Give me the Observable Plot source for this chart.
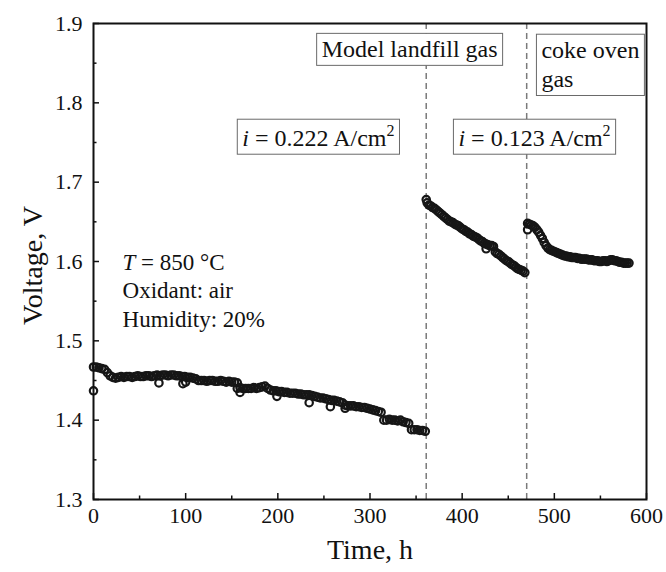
<!DOCTYPE html>
<html><head><meta charset="utf-8">
<script src="https://cdn.jsdelivr.net/npm/d3@7"></script>
<script src="https://cdn.jsdelivr.net/npm/@observablehq/plot@0.6"></script>
<style>body{margin:0;background:#fff}#chart{width:666px;height:572px}
#chart svg text{font-family:"Liberation Serif","Times New Roman",serif}</style>
</head><body><div id="chart"></div>
<script>
// ---- data ----
// Segment 1: model landfill gas, i = 0.222 A/cm2 (logged every 3 h from 0 h)
const seg1Start = 0, seg1Step = 3;
const seg1V = [
  1.467,1.467,1.466,1.465,1.464,1.460,1.456,1.454,1.453,1.454,
  1.455,1.454,1.455,1.455,1.454,1.455,1.456,1.455,1.455,1.456,
  1.456,1.455,1.456,1.457,1.456,1.457,1.457,1.456,1.457,1.457,
  1.456,1.456,1.455,1.455,1.454,1.454,1.453,1.452,1.450,1.450,
  1.450,1.449,1.450,1.450,1.449,1.449,1.450,1.449,1.448,1.449,
  1.448,1.448,1.447,1.441,1.440,1.440,1.440,1.440,1.441,1.440,
  1.441,1.442,1.443,1.440,1.438,1.437,1.437,1.436,1.436,1.435,
  1.435,1.434,1.434,1.434,1.433,1.433,1.432,1.432,1.432,1.431,
  1.430,1.429,1.428,1.428,1.427,1.426,1.425,1.425,1.424,1.423,
  1.422,1.419,1.418,1.418,1.418,1.417,1.417,1.416,1.416,1.415,
  1.414,1.413,1.412,1.411,1.410,1.400,1.400,1.401,1.400,1.400,
  1.399,1.400,1.398,1.397,1.396,1.388,1.388,1.388,1.387,1.387,
  1.386
];
// Segment 2: model landfill gas, i = 0.123 A/cm2 (every 2 h from 362 h)
const seg2Start = 362, seg2Step = 2;
const seg2V = [
  1.674,1.671,1.670,1.668,1.667,1.665,1.663,1.661,1.659,1.657,
  1.655,1.653,1.651,1.650,1.649,1.647,1.646,1.645,1.643,1.641,
  1.640,1.638,1.637,1.635,1.634,1.632,1.631,1.630,1.628,1.626,
  1.625,1.623,1.622,1.621,1.620,1.620,1.619,1.612,1.610,1.609,
  1.607,1.605,1.603,1.601,1.600,1.598,1.596,1.595,1.593,1.591,
  1.590,1.589,1.588,1.586
];
// Segment 3: coke oven gas (every 2 h from 471 h)
const seg3Start = 471, seg3Step = 2;
const seg3V = [
  1.648,1.647,1.646,1.645,1.643,1.640,1.637,1.633,1.629,1.624,
  1.620,1.617,1.615,1.614,1.613,1.612,1.611,1.610,1.609,1.608,
  1.607,1.607,1.606,1.606,1.605,1.605,1.605,1.604,1.604,1.603,
  1.603,1.603,1.603,1.602,1.602,1.602,1.601,1.601,1.601,1.600,
  1.600,1.601,1.601,1.600,1.601,1.602,1.602,1.601,1.601,1.600,
  1.599,1.599,1.598,1.598,1.598,1.598
];
// isolated points off the band
const outT = [0, 71, 97, 100, 156, 159, 199, 234, 257, 273, 361, 426, 471];
const outV = [1.437,1.447,1.446,1.448,1.440,1.435,1.430,1.422,1.417,1.415,1.678,1.616,1.640];

// fuel switch times
const dividers = [361, 470];

// ticks
const xMajor = [0,100,200,300,400,500,600];
const xMinor = [50,150,250,350,450,550];
const yMajor = [1.3,1.4,1.5,1.6,1.7,1.8,1.9];
const yMinor = [1.35,1.45,1.55,1.65,1.75,1.85];

// texts
const xTitle = "Time, h";
const yTitle = "Voltage, V";
const boxedCenter = [
  {label: "Model landfill gas", t: 343, v: 1.867},
  {label: "i = 0.222 A/cm2", t: 244, v: 1.755},
  {label: "i = 0.123 A/cm2", t: 478.5, v: 1.755}
];
const boxedLeft = [{label: "coke oven\ngas", t: 486, v: 1.8496}];
const conditions = [{label: "T = 850 °C\nOxidant: air\nHumidity: 20%", t: 31.5, v: 1.5647}];

// ---- build ----
const points = [];
seg1V.forEach((v, i) => points.push({t: seg1Start + i * seg1Step, v}));
seg2V.forEach((v, i) => points.push({t: seg2Start + i * seg2Step, v}));
seg3V.forEach((v, i) => points.push({t: seg3Start + i * seg3Step, v}));
outT.forEach((t, i) => points.push({t, v: outV[i]}));

const ink = "#111";
const serif = "Liberation Serif";
const chart = Plot.plot({
  width: 666, height: 572,
  marginLeft: 93, marginRight: 20, marginTop: 23, marginBottom: 73,
  style: {fontFamily: serif, fontSize: "20px", color: ink, background: "#fff"},
  x: {domain: [0, 600], label: null},
  y: {domain: [1.3, 1.9], label: null},
  marks: [
    Plot.ruleX(dividers, {stroke: "#7a7a7a", strokeWidth: 1.5, strokeDasharray: "6,4"}),
    Plot.ruleY(yMajor, {x1: 0, x2: 6.5, stroke: ink, strokeWidth: 1.5}),
    Plot.ruleY(yMinor, {x1: 0, x2: 3.8, stroke: ink, strokeWidth: 1.5}),
    Plot.ruleX(xMajor, {y1: 1.3, y2: 1.3076, stroke: ink, strokeWidth: 1.5}),
    Plot.ruleX(xMinor, {y1: 1.3, y2: 1.3044, stroke: ink, strokeWidth: 1.5}),
    Plot.dot(points, {x: "t", y: "v", r: 3.7, stroke: "#161616", strokeWidth: 2.2, fill: "none"}),
    Plot.frame({stroke: ink, strokeWidth: 2}),
    Plot.axisY({ticks: yMajor, tickFormat: d => d.toFixed(1), tickSize: 0, tickPadding: 11, fontSize: 22, fontFamily: serif, label: null}),
    Plot.axisX({ticks: xMajor, tickFormat: d => String(d), tickSize: 0, tickPadding: 8, fontSize: 22, fontFamily: serif, label: null}),
    Plot.text([yTitle], {text: d => d, frameAnchor: "left", textAnchor: "middle", dx: -60, dy: 4, rotate: -90, fontSize: 28, fontFamily: serif, fill: ink}),
    Plot.text([xTitle], {text: d => d, frameAnchor: "bottom", textAnchor: "middle", dy: 59, fontSize: 28, fontFamily: serif, fill: ink}),
    Plot.text(boxedCenter, {x: "t", y: "v", text: "label", textAnchor: "middle", fontSize: 24, fontFamily: serif, fill: ink}),
    Plot.text(boxedLeft, {x: "t", y: "v", text: "label", textAnchor: "start", fontSize: 24, lineHeight: 1.22, fontFamily: serif, fill: ink}),
    Plot.text(conditions, {x: "t", y: "v", text: "label", textAnchor: "start", fontSize: 23, lineHeight: 1.22, fontFamily: serif, fill: ink})
  ]
});
document.getElementById("chart").append(chart);

// ---- rich text (italics, superscript) and boxes ----
const NS = "http://www.w3.org/2000/svg";
function rich(el, parts) {
  while (el.firstChild) el.removeChild(el.firstChild);
  for (const p of parts) {
    if (typeof p === "string") el.appendChild(document.createTextNode(p));
    else {
      const ts = document.createElementNS(NS, "tspan");
      for (const k in p.a) ts.setAttribute(k, p.a[k]);
      ts.textContent = p.s;
      el.appendChild(ts);
    }
  }
}
const boxedKeys = [...boxedCenter, ...boxedLeft].map(d => d.label.replace(/\n/g, ""));
const allText = Array.from(chart.querySelectorAll("text"));
const boxedEls = allText.filter(t => boxedKeys.includes(t.textContent));
allText.forEach(t => {
  const targets = t.children.length ? Array.from(t.children) : [t];
  targets.forEach(el => {
    const s = el.textContent;
    const m = s.match(/^i = ([\d.]+) A\/cm2$/);
    if (m) rich(el, [{s: "i", a: {"font-style": "italic"}}, " = " + m[1] + " A/cm", {s: "2", a: {dy: "-10", "font-size": "16"}}]);
    else if (s.startsWith("T = ")) rich(el, [{s: "T", a: {"font-style": "italic"}}, s.slice(1)]);
  });
});
boxedEls.forEach(t => {
  const b = t.getBBox();
  const r = document.createElementNS(NS, "rect");
  r.setAttribute("x", b.x - 5);
  r.setAttribute("y", b.y - 3);
  r.setAttribute("width", b.width + 10);
  r.setAttribute("height", b.height + 6);
  r.setAttribute("fill", "#fff");
  r.setAttribute("stroke", "#6a6a6a");
  r.setAttribute("stroke-width", "1");
  const tr = t.getAttribute("transform");
  if (tr) r.setAttribute("transform", tr);
  t.parentNode.insertBefore(r, t);
});
</script>
</body></html>
